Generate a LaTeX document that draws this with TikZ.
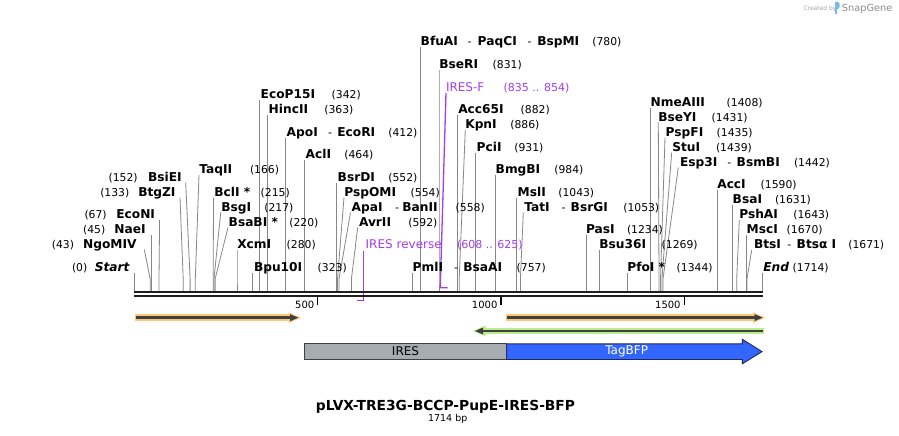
\documentclass[tikz,border=0pt]{standalone}
\usepackage{fontspec}
\setmainfont{DejaVu Sans}
\definecolor{cutgray}{RGB}{135,135,135}
\definecolor{prim}{RGB}{165,60,240}
\definecolor{rulercol}{RGB}{30,30,30}
\definecolor{orhalo}{RGB}{250,200,120}
\definecolor{grhalo}{RGB}{185,240,140}
\definecolor{darkln}{RGB}{64,64,64}
\definecolor{iresfill}{RGB}{166,172,178}
\definecolor{bfpfill}{RGB}{51,102,255}
\definecolor{bfpdraw}{RGB}{30,40,90}
\definecolor{logoblue}{RGB}{120,185,235}
\begin{document}
\begin{tikzpicture}[x=1pt,y=-1pt,
  nm/.style={anchor=base west,inner sep=0pt,outer sep=0pt,font=\fontsize{12.2}{14}\selectfont\bfseries},
  nme/.style={anchor=base east,inner sep=0pt,outer sep=0pt,font=\fontsize{12.2}{14}\selectfont\bfseries},
  nb/.style={anchor=base west,inner sep=0pt,outer sep=0pt,font=\fontsize{10.8}{13}\selectfont},
  nbe/.style={anchor=base east,inner sep=0pt,outer sep=0pt,font=\fontsize{10.8}{13}\selectfont},
  sep/.style={anchor=base west,inner sep=0pt,outer sep=0pt,font=\fontsize{11}{13}\selectfont},
  pn/.style={anchor=base west,inner sep=0pt,outer sep=0pt,text=prim,font=\fontsize{12}{14}\selectfont},
  pnum/.style={anchor=base west,inner sep=0pt,outer sep=0pt,text=prim,font=\fontsize{11}{13}\selectfont},
  cutln/.style={draw=cutgray,line width=0.8pt},
  pline/.style={draw=prim,line width=1.3pt},
  tickln/.style={draw=black,line width=1.4pt},
  ticklab/.style={anchor=base east,inner sep=0pt,font=\fontsize{10}{12}\selectfont},
  featbox/.style={line width=0.9pt}
]
\fill[white] (0,0) rectangle (899,436);
\useasboundingbox (0,0) rectangle (899,436);

% ---------- cut-site lines ----------
\foreach \i/\xt/\yt/\xs in {
  start/134.4/272.5/134.4, ngomiv/144.3/249.5/150.2, naei/150.9/235/150.9,
  econi/159.6/220/159.0, btgzi/180/197.5/183.2, bsiei/185.7/182.5/190.1,
  taqii/199/175/195.3, bcli/213.5/197.5/213.2, bsgi/220.7/212.5/214.0,
  bsabi/228/227.5/215.1, xcmi/237/250/237.0, bpu/252.8/272.5/252.8,
  ecop/259.8/100/259.8, hincii/267.5/115/267.5, apoi/285.4/137.5/285.4,
  acli/304.5/160/304.5, bsrdi/336.8/182.5/336.8, pspomi/344/197.5/337.5,
  apai/350.5/212.5/339.0, avrii/357.7/227.5/351.4, pmli/411.9/272.5/411.9,
  bfuai/420.3/47.5/420.3, bseri/439/70/439.0, acc/457.7/115/457.7,
  kpni/465.3/130/459.2, pcii/475.7/152.5/475.7, bmgbi/495.1/175/495.1,
  msli/516.8/197.5/516.8, tati/523.3/212.5/520.4, pasi/586.8/235/586.8,
  bsu/599.6/250/599.6, pfoi/627.1/272.5/627.1, nmeaiii/650.6/107.5/650.6,
  bseyi/658.3/122.5/659.0, pspfi/665/137.5/660.5, stui/671.7/152.5/661.9,
  esp/678.3/167.5/663.0, acci/717.3/190/717.3, bsai/732.3/205/732.3,
  pshai/739.3/220/736.7, msci/746.6/235/746.6, btsi/751.7/250/747.0,
  endp/762.8/272.5/762.8}{
  \coordinate (t\i) at (\xt,\yt);
  \coordinate (s\i) at (\xs,291);
  \draw[cutln] (t\i) -- ([yshift=12pt]s\i) -- (s\i);
}

% ---------- primer lines ----------
\coordinate (pfTop) at (446,93);
\coordinate (pfBot) at (440.5,287.7);
\coordinate (pfEnd) at (447.5,287.7);
\draw[pline] (pfTop) -- ([yshift=8.7pt]pfBot) -- (pfBot) -- (pfEnd);
\coordinate (prTop) at (363.5,250.5);
\coordinate (prBot) at (363.5,300.8);
\coordinate (prEnd) at (357.3,300.8);
\draw[pline] (prTop) -- (prBot) -- (prEnd);

% ---------- ruler ----------
\coordinate (rl1) at (134.4,292.2); \coordinate (rr1) at (763.3,292.2);
\coordinate (rl2) at (134.4,296);   \coordinate (rr2) at (763.3,296);
\draw[rulercol,line width=2.3pt] (rl1) -- (rr1);
\draw[rulercol,line width=2.6pt] (rl2) -- (rr2);
\draw[tickln] (317.7,297.3) -- (317.7,304.7);
\draw[tickln] (500.9,297.3) -- (500.9,304.7);
\draw[tickln] (684.2,297.3) -- (684.2,304.7);
\node[ticklab] (t500) at (314.5,308) {500};
\node[ticklab] (t1000) at (497.6,308) {1000};
\node[ticklab] (t1500) at (680.8,308) {1500};

% ---------- labels: number first ----------
\node[nbe] (n0) at (87.3,271) {(0)};
\node[nme,font=\fontsize{12.2}{14}\selectfont\bfseries\itshape] (l0) at (129.5,271) {Start};
\node[nbe] (n43) at (74,248.5) {(43)};
\node[nme] (l43) at (136.5,248.5) {NgoMIV};
\node[nbe] (n45) at (105.3,233.5) {(45)};
\node[nme] (l45) at (145.7,233.5) {NaeI};
\node[nbe] (n67) at (106.7,218.5) {(67)};
\node[nme] (l67) at (155,218.5) {EcoNI};
\node[nbe] (n133) at (129.3,196) {(133)};
\node[nme] (l133) at (175.5,196) {BtgZI};
\node[nbe] (n152) at (137.7,181) {(152)};
\node[nme] (l152) at (181.7,181) {BsiEI};

% ---------- labels: name first ----------
\node[nm] (l166) at (199.3,173.5) {TaqII};   \node[nb] (n166) at (250,173.5) {(166)};
\node[nm] (l215) at (214.3,196) {BclI *};    \node[nb] (n215) at (260.7,196) {(215)};
\node[nm] (l217) at (221.3,211) {BsgI};      \node[nb] (n217) at (264.3,211) {(217)};
\node[nm] (l220) at (228.7,226) {BsaBI *};   \node[nb] (n220) at (289.3,226) {(220)};
\node[nm] (l280) at (237.3,248.5) {XcmI};    \node[nb] (n280) at (286.7,248.5) {(280)};
\node[nm] (l323) at (254,271) {Bpu10I};      \node[nb] (n323) at (317.7,271) {(323)};
\node[nm] (l342) at (260.7,98.5) {EcoP15I};  \node[nb] (n342) at (331.7,98.5) {(342)};
\node[nm] (l363) at (268.7,113.5) {HincII};  \node[nb] (n363) at (324.3,113.5) {(363)};
\node[nm] (l412a) at (286.7,136) {ApoI};
\node[sep] (d412) at (328,136) {-};
\node[nm] (l412b) at (337.3,136) {EcoRI};    \node[nb] (n412) at (388.3,136) {(412)};
\node[nm] (l464) at (305.7,158.5) {AclI};    \node[nb] (n464) at (344.3,158.5) {(464)};
\node[nm] (l552) at (337.7,181) {BsrDI};     \node[nb] (n552) at (388.3,181) {(552)};
\node[nm] (l554) at (344.3,196) {PspOMI};    \node[nb] (n554) at (410.7,196) {(554)};
\node[nm] (l558a) at (351.7,211) {ApaI};
\node[sep] (d558) at (395,211) {-};
\node[nm] (l558b) at (402.3,211) {BanII};    \node[nb] (n558) at (455.7,211) {(558)};
\node[nm] (l592) at (359,226) {AvrII};       \node[nb] (n592) at (408.3,226) {(592)};
\node[pn] (lrev) at (365.7,248.5) {IRES reverse};
\node[pnum] (nrev) at (457,248.5) {(608 .. 625)};
\node[nm] (l757a) at (412.7,271) {PmlI};
\node[sep] (d757) at (454,271) {-};
\node[nm] (l757b) at (463.3,271) {BsaAI};     \node[nb] (n757) at (516.7,271) {(757)};
\node[nm] (l780a) at (420.7,46) {BfuAI};
\node[sep] (d780a) at (467.7,46) {-};
\node[nm] (l780b) at (477.7,46) {PaqCI};
\node[sep] (d780b) at (527.7,46) {-};
\node[nm] (l780c) at (537.3,46) {BspMI};     \node[nb] (n780) at (592.3,46) {(780)};
\node[nm] (l831) at (439.3,68.5) {BseRI};    \node[nb] (n831) at (492.7,68.5) {(831)};
\node[pn] (lfwd) at (446,91) {IRES-F};
\node[pnum] (nfwd) at (503.7,91) {(835 .. 854)};
\node[nm] (l882) at (458.3,113.5) {Acc65I};  \node[nb] (n882) at (520.7,113.5) {(882)};
\node[nm] (l886) at (465.3,128.5) {KpnI};    \node[nb] (n886) at (510.3,128.5) {(886)};
\node[nm] (l931) at (476.7,151) {PciI};      \node[nb] (n931) at (514.3,151) {(931)};
\node[nm] (l984) at (495.7,173.5) {BmgBI};   \node[nb] (n984) at (554.3,173.5) {(984)};
\node[nm] (l1043) at (517.7,196) {MslI};     \node[nb] (n1043) at (558.3,196) {(1043)};
\node[nm] (l1053a) at (524.3,211) {TatI};
\node[sep] (d1053) at (561.7,211) {-};
\node[nm] (l1053b) at (570.7,211) {BsrGI};   \node[nb] (n1053) at (623.3,211) {(1053)};
\node[nm] (l1234) at (586,233.5) {PasI};     \node[nb] (n1234) at (627,233.5) {(1234)};
\node[nm] (l1269) at (599.3,248.5) {Bsu36I}; \node[nb] (n1269) at (661.7,248.5) {(1269)};
\node[nm] (l1344) at (627.3,271) {PfoI *};   \node[nb] (n1344) at (676.7,271) {(1344)};
\node[nm] (l1408) at (650.7,106) {NmeAIII};  \node[nb] (n1408) at (726.7,106) {(1408)};
\node[nm] (l1431) at (658.3,121) {BseYI};    \node[nb] (n1431) at (711.7,121) {(1431)};
\node[nm] (l1435) at (665.7,136) {PspFI};    \node[nb] (n1435) at (716.7,136) {(1435)};
\node[nm] (l1439) at (672.3,151) {StuI};     \node[nb] (n1439) at (716,151) {(1439)};
\node[nm] (l1442a) at (680,166) {Esp3I};
\node[sep] (d1442) at (727.3,166) {-};
\node[nm] (l1442b) at (736.7,166) {BsmBI};   \node[nb] (n1442) at (794,166) {(1442)};
\node[nm] (l1590) at (717.3,188.5) {AccI};   \node[nb] (n1590) at (760.7,188.5) {(1590)};
\node[nm] (l1631) at (732.7,203.5) {BsaI};   \node[nb] (n1631) at (775,203.5) {(1631)};
\node[nm] (l1643) at (739.3,218.5) {PshAI};  \node[nb] (n1643) at (793.3,218.5) {(1643)};
\node[nm] (l1670) at (746.7,233.5) {MscI};   \node[nb] (n1670) at (786.7,233.5) {(1670)};
\node[nm] (l1671a) at (754,248.5) {BtsI};
\node[sep] (d1671) at (787.3,248.5) {-};
\node[nm] (l1671b) at (796.7,248.5) {Btsα I};  \node[nb] (n1671) at (848.3,248.5) {(1671)};
\node[nm,font=\fontsize{12.2}{14}\selectfont\bfseries\itshape] (l1714) at (763.3,271) {End};
\node[nb] (n1714) at (792.7,271) {(1714)};

% ---------- ORF arrows ----------
% orange 1
\fill[orhalo] (134.5,314.4) rectangle (292,321);
\fill[orhalo] (288.5,312.4) -- (300.8,317.7) -- (288.5,323) -- cycle;
\coordinate (o1s) at (135.5,317.7); \coordinate (o1e) at (291.5,317.7);
\draw[darkln,line width=2.6pt] (o1s) -- (o1e);
\fill[darkln] (290.2,314.2) -- (298.3,317.7) -- (290.2,321.2) -- cycle;
% orange 2
\fill[orhalo] (506,314.3) rectangle (756.5,320.9);
\fill[orhalo] (753,312.3) -- (765.2,317.6) -- (753,322.9) -- cycle;
\coordinate (o2s) at (507,317.6); \coordinate (o2e) at (756,317.6);
\draw[darkln,line width=2.5pt] (o2s) -- (o2e);
\fill[darkln] (754.6,314.1) -- (762.7,317.6) -- (754.6,321.1) -- cycle;
% green (reverse)
\fill[grhalo] (481.5,328) rectangle (764,334);
\fill[grhalo] (485.5,325.7) -- (472.6,331) -- (485.5,336.3) -- cycle;
\coordinate (g1s) at (762.7,331); \coordinate (g1e) at (482,331);
\draw[darkln,line width=2.3pt] (g1s) -- (g1e);
\fill[darkln] (483.1,327.5) -- (475,331) -- (483.1,334.5) -- cycle;

% ---------- features ----------
\draw[featbox,fill=iresfill,draw=darkln] (304.3,343.5) rectangle (506.7,359.5);
\node[font=\fontsize{12}{14}\selectfont] (ires) at (405.5,351.5) {IRES};
\draw[featbox,fill=bfpfill,draw=bfpdraw] (506.7,343.8) -- (742.3,343.8) -- (742.3,339.3) -- (762,351.6) -- (742.3,363.8) -- (742.3,359.5) -- (506.7,359.5) -- cycle;
\node[font=\fontsize{12}{14}\selectfont,text=white] (bfp) at (626.7,351.5) {TagBFP};

% ---------- title ----------
\node[font=\fontsize{13.8}{16}\selectfont\bfseries,anchor=base,inner sep=0pt] (title) at (445.5,410.7) {pLVX-TRE3G-BCCP-PupE-IRES-BFP};
\node[font=\fontsize{9.5}{11}\selectfont,anchor=base,inner sep=0pt] (bp) at (447.7,421.5) {1714 bp};

% ---------- credit ----------
\node[anchor=base west,inner sep=0pt,text=black!35,font=\fontsize{6}{7}\selectfont] (cby) at (803.3,10.3) {Created by};
\fill[logoblue] (835.4,2) rectangle (837.1,14);
\fill[logoblue] (837.1,2) -- (838.6,2.4) -- (839.6,4) -- (839.6,7) -- (838.6,8.6) -- (837.1,9) -- cycle;
\node[anchor=base west,inner sep=0pt,text=black!45,font=\fontsize{9.8}{11}\selectfont] (sg) at (841.7,11.6) {SnapGene};
\end{tikzpicture}
\end{document}
